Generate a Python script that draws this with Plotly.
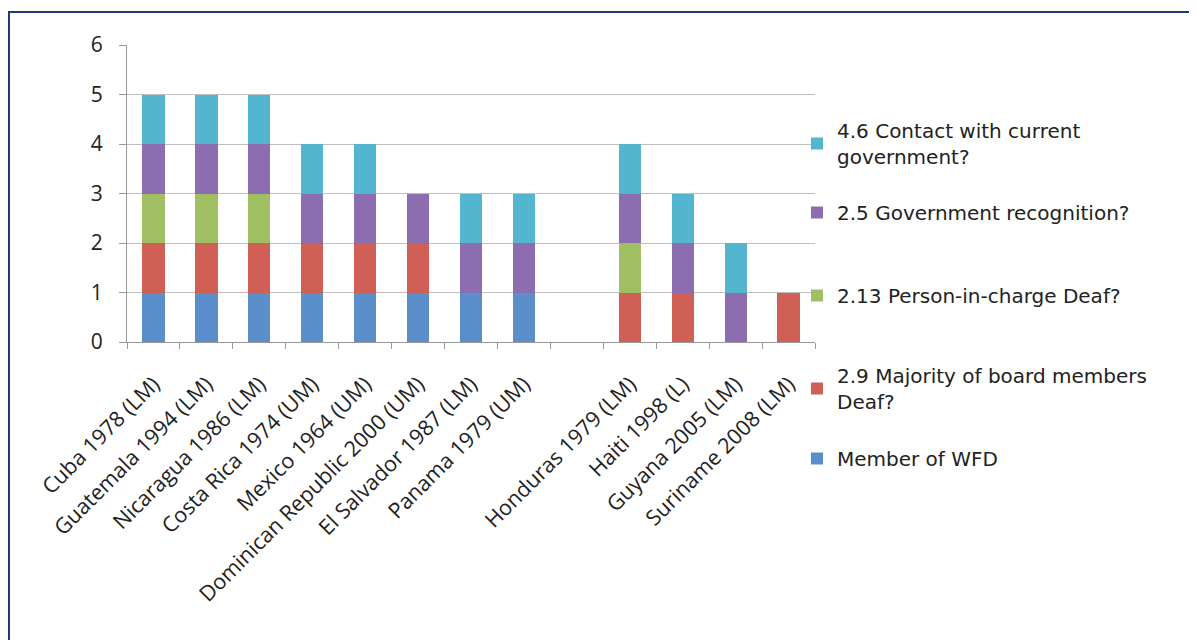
import plotly.graph_objects as go

categories = ["Cuba 1978 (LM)", "Guatemala 1994 (LM)", "Nicaragua 1986 (LM)",
              "Costa Rica 1974 (UM)", "Mexico 1964 (UM)", "Dominican Republic 2000 (UM)",
              "El Salvador 1987 (LM)", "Panama 1979 (UM)", " ",
              "Honduras 1979 (LM)", "Haiti 1998 (L)", "Guyana 2005 (LM)", "Suriname 2008 (LM)"]

member_wfd = [1, 1, 1, 1, 1, 1, 1, 1, 0, 0, 0, 0, 0]
board_deaf = [1, 1, 1, 1, 1, 1, 0, 0, 0, 1, 1, 0, 1]
person_deaf = [1, 1, 1, 0, 0, 0, 0, 0, 0, 1, 0, 0, 0]
gov_recog = [1, 1, 1, 1, 1, 1, 1, 1, 0, 1, 1, 1, 0]
contact_gov = [1, 1, 1, 1, 1, 0, 1, 1, 0, 1, 1, 1, 0]

series = [
    ("Member of WFD", member_wfd, "#5A8FCC", "legend5"),
    ("2.9 Majority of board members<br>Deaf?", board_deaf, "#D05F55", "legend4"),
    ("2.13 Person-in-charge Deaf?", person_deaf, "#A0BE62", "legend3"),
    ("2.5 Government recognition?", gov_recog, "#8C6DB0", "legend2"),
    ("4.6 Contact with current<br>government?", contact_gov, "#53B5CE", "legend"),
]

fig = go.Figure()
for name, vals, color, lg in series:
    fig.add_trace(go.Bar(x=categories, y=vals, name=name, marker_color=color,
                         marker_line_width=0, legend=lg))

# page is offset by 8px body margin
OFF = 8
W, H = 1197 - OFF, 640 - OFF
l, r, t, b = 127 - OFF, 382, 45 - OFF, 298
pw, ph = W - l - r, H - t - b

def px_to_paper(xp, yp):
    # xp, yp are page coordinates
    xp -= OFF
    yp -= OFF
    return (xp - l) / pw, 1 - (yp - t) / ph

leg_font = dict(family="DejaVu Sans", size=20, color="#222222")
legend_tops = {"legend": 111, "legend2": 193, "legend3": 276, "legend4": 356, "legend5": 439}
legends = {}
for key, ytop in legend_tops.items():
    xx, yy = px_to_paper(797, ytop)
    legends[key] = dict(x=xx, y=yy, xanchor="left", yanchor="top", font=leg_font,
                        bgcolor="rgba(0,0,0,0)", itemwidth=30, tracegroupgap=0,
                        itemclick=False)

fx0, fy0 = px_to_paper(9, 12)
fx1, fy1 = px_to_paper(1300, 800)

fig.update_layout(
    barmode="stack",
    bargap=0.58,
    width=W, height=H,
    margin=dict(l=l, r=r, t=t, b=b, autoexpand=False),
    paper_bgcolor="white", plot_bgcolor="white",
    showlegend=True,
    font=dict(family="Open Sans", size=20, color="#222222"),
    xaxis=dict(type="category", categoryorder="array", categoryarray=categories,
               tickangle=-45, ticks="outside", tickson="boundaries", ticklen=6,
               tickcolor="#999999", showline=True, linecolor="#999999", linewidth=1,
               showgrid=False, ticklabelstandoff=20,
               tickfont=dict(family="Open Sans", size=21.5, color="#222222")),
    yaxis=dict(range=[0, 6], dtick=1, showgrid=True, gridcolor="#BFBFBF", gridwidth=1,
               showline=True, linecolor="#999999", linewidth=1, ticks="outside",
               ticklen=7, tickcolor="#999999", zeroline=False, ticklabelstandoff=12,
               tickfont=dict(family="Open Sans", size=21, color="#222222")),
    shapes=[dict(type="rect", xref="paper", yref="paper", x0=fx0, y0=fy1, x1=fx1, y1=fy0,
                 line=dict(color="#1F3A7A", width=2), fillcolor="rgba(0,0,0,0)", layer="below")],
    **legends,
)

fig.write_html("out.html")
